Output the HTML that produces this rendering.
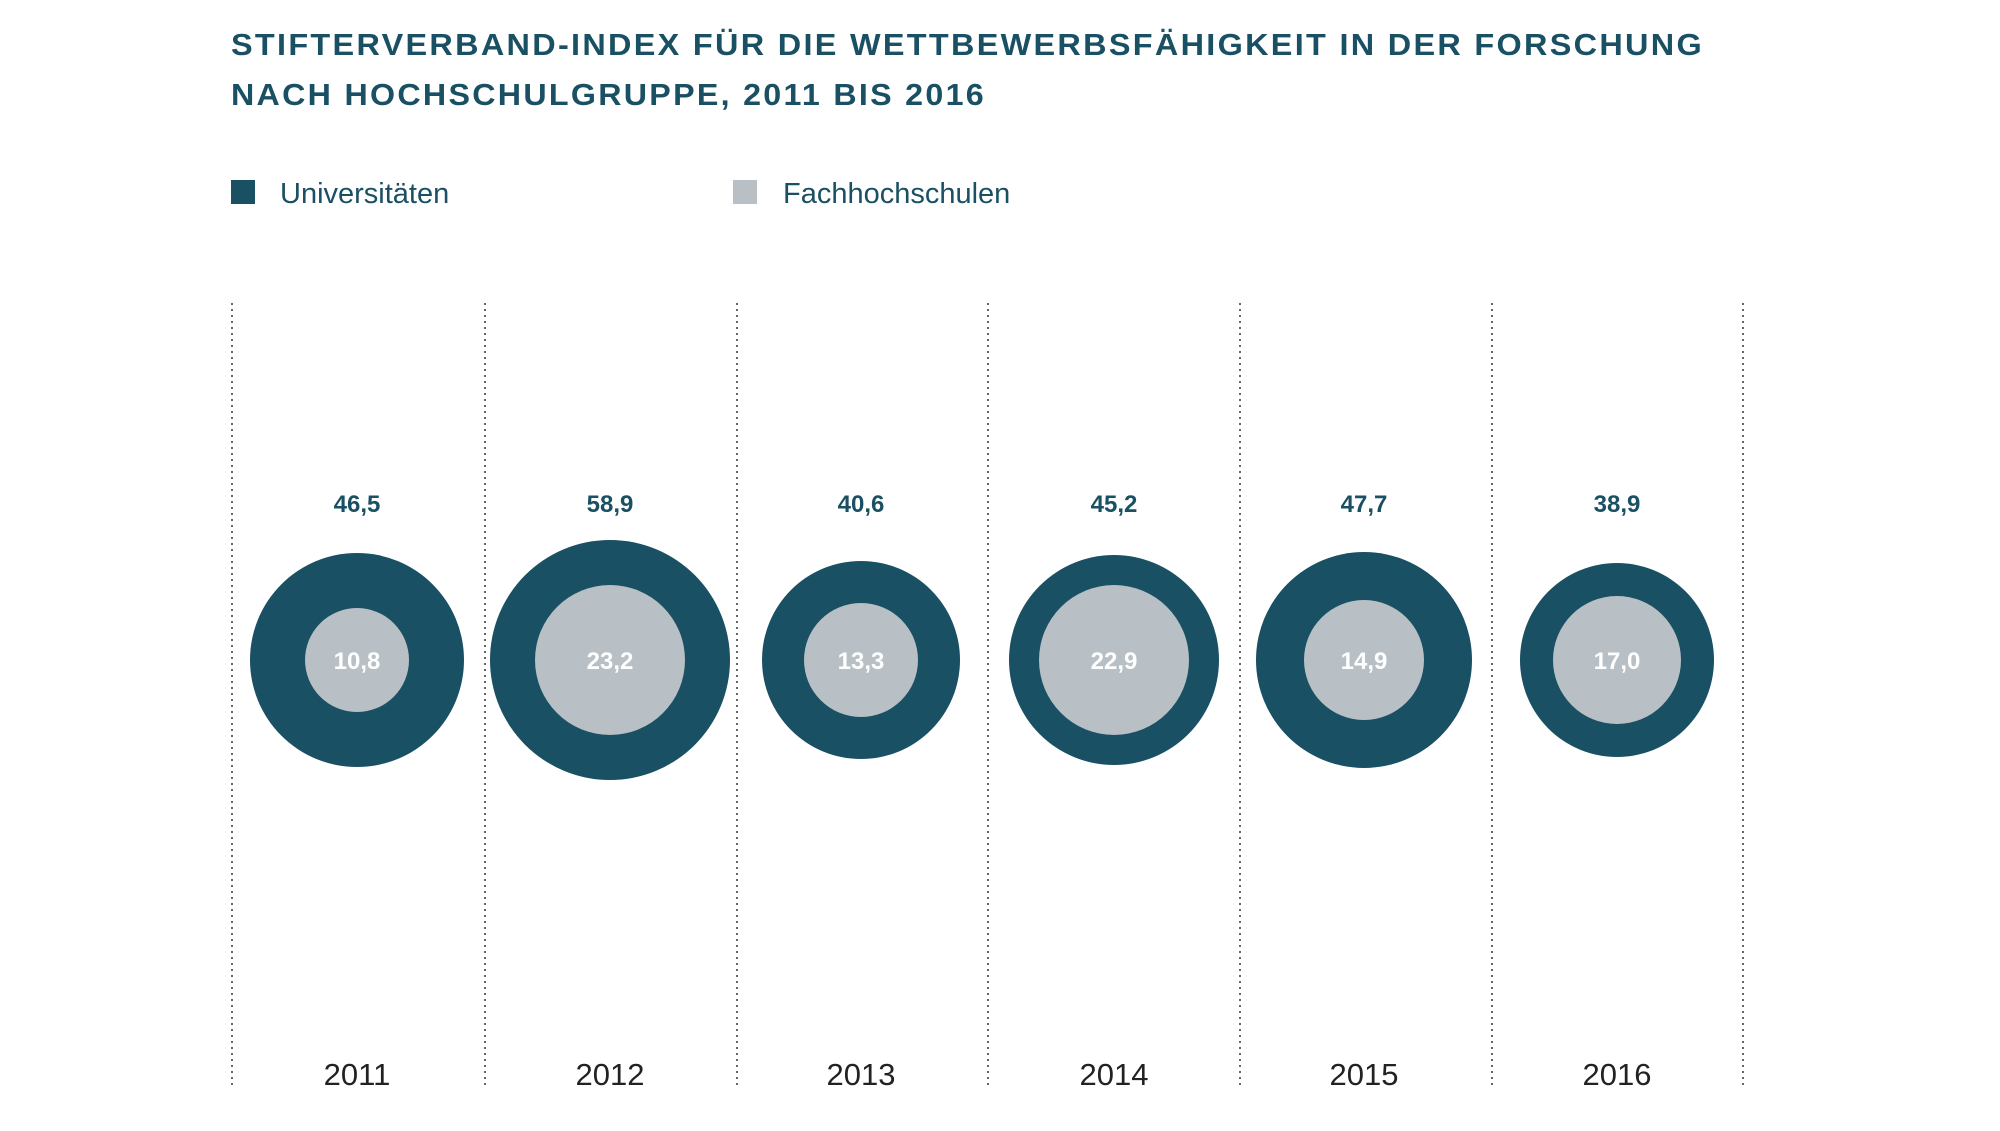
<!DOCTYPE html>
<html><head><meta charset="utf-8"><style>
body{margin:0;background:#fff;}
svg text{font-family:"Liberation Sans",sans-serif;}
</style></head><body>
<svg width="2000" height="1126" viewBox="0 0 2000 1126" xmlns="http://www.w3.org/2000/svg">
<g fill="#1a5063" font-weight="bold" font-size="31" letter-spacing="2.2">
<text x="231" y="55" textLength="1473" lengthAdjust="spacingAndGlyphs">STIFTERVERBAND-INDEX FÜR DIE WETTBEWERBSFÄHIGKEIT IN DER FORSCHUNG</text>
<text x="231" y="105" textLength="755" lengthAdjust="spacingAndGlyphs">NACH HOCHSCHULGRUPPE, 2011 BIS 2016</text>
</g>
<rect x="231" y="180" width="24" height="24" fill="#1a5063"/>
<text x="280" y="203" font-size="29" fill="#1a5063">Universitäten</text>
<rect x="733" y="180" width="24" height="24" fill="#b8c0c5"/>
<text x="783" y="203" font-size="29" fill="#1a5063">Fachhochschulen</text>
<g stroke="#666" stroke-width="2" stroke-dasharray="2,4">
<line x1="232" y1="303" x2="232" y2="1088"/><line x1="485" y1="303" x2="485" y2="1088"/>
<line x1="737" y1="303" x2="737" y2="1088"/><line x1="988" y1="303" x2="988" y2="1088"/>
<line x1="1240" y1="303" x2="1240" y2="1088"/><line x1="1492" y1="303" x2="1492" y2="1088"/>
<line x1="1743" y1="303" x2="1743" y2="1088"/>
</g>
<g fill="#1a5063">
<circle cx="357" cy="660" r="107"/><circle cx="610" cy="660" r="120"/><circle cx="861" cy="660" r="99"/>
<circle cx="1114" cy="660" r="105"/><circle cx="1364" cy="660" r="108"/><circle cx="1617" cy="660" r="97"/>
</g>
<g fill="#b8c0c5">
<circle cx="357" cy="660" r="52"/><circle cx="610" cy="660" r="75"/><circle cx="861" cy="660" r="57"/>
<circle cx="1114" cy="660" r="75"/><circle cx="1364" cy="660" r="60"/><circle cx="1617" cy="660" r="64"/>
</g>
<g fill="#1a5063" font-weight="bold" font-size="24" text-anchor="middle">
<text x="357" y="512">46,5</text><text x="610" y="512">58,9</text><text x="861" y="512">40,6</text>
<text x="1114" y="512">45,2</text><text x="1364" y="512">47,7</text><text x="1617" y="512">38,9</text>
</g>
<g fill="#fff" font-weight="bold" font-size="24" text-anchor="middle">
<text x="357" y="669">10,8</text><text x="610" y="669">23,2</text><text x="861" y="669">13,3</text>
<text x="1114" y="669">22,9</text><text x="1364" y="669">14,9</text><text x="1617" y="669">17,0</text>
</g>
<g fill="#222" font-size="31" text-anchor="middle">
<text x="357" y="1085">2011</text><text x="610" y="1085">2012</text><text x="861" y="1085">2013</text>
<text x="1114" y="1085">2014</text><text x="1364" y="1085">2015</text><text x="1617" y="1085">2016</text>
</g>
</svg>
</body></html>
